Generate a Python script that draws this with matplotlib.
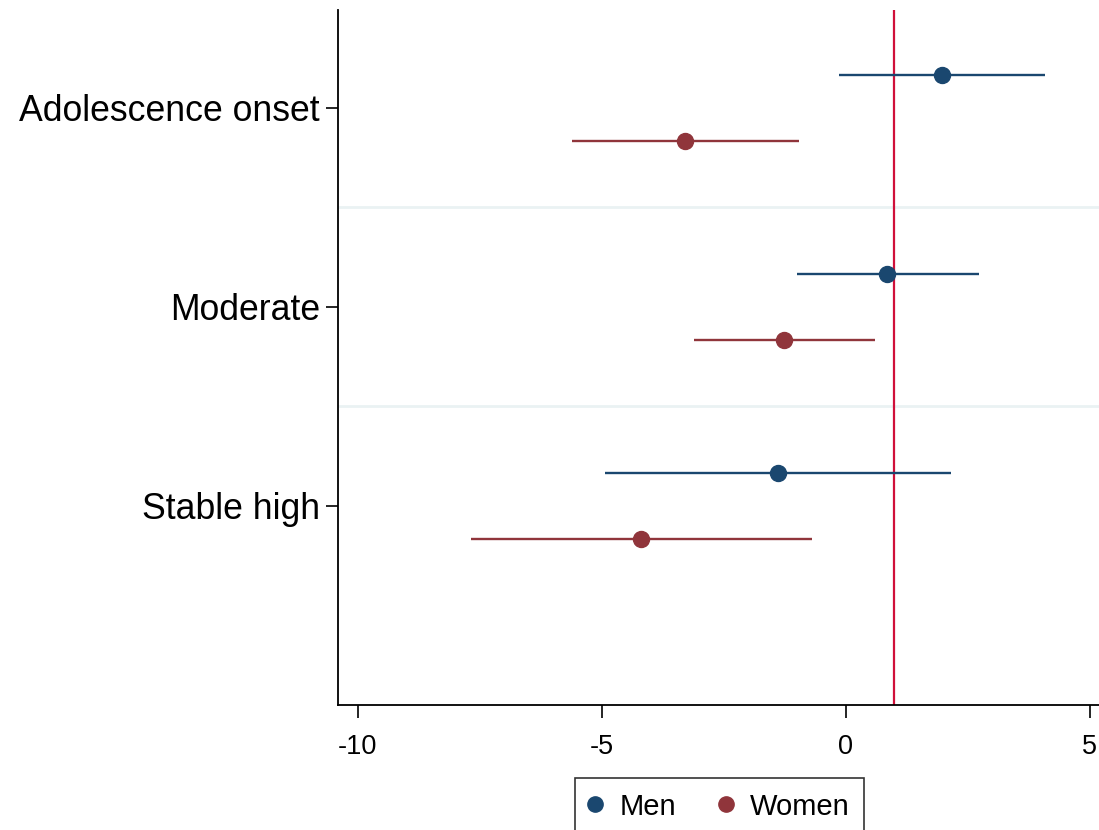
import numpy as np
import matplotlib.pyplot as plt
from matplotlib.lines import Line2D

plt.rcParams['font.family'] = ['Liberation Sans', 'DejaVu Sans']

# coefficient estimates and 95% CIs
categories = ['Adolescence onset', 'Moderate', 'Stable high']
men_est = [1.98, 0.85, -1.38]
men_lo = [-0.13, -0.99, -4.93]
men_hi = [4.09, 2.74, 2.16]
women_est = [-3.29, -1.26, -4.19]
women_lo = [-5.60, -3.10, -7.67]
women_hi = [-0.95, 0.60, -0.69]
ref_value = 1.0

men_color = '#1a476f'
women_color = '#90353b'

fig = plt.figure(figsize=(10.99, 8.30), dpi=100)
ax = fig.add_axes([338 / 1099, 125 / 830, 1 - 338 / 1099, 695 / 830])

pos = np.arange(1, len(categories) + 1)
off = 0.166

# separators between groups
for s in pos[:-1] + 0.5:
    ax.axhline(s, color='#eaf2f3', linewidth=2, zorder=0)

ax.axvline(ref_value, color='#d0103a', linewidth=1.6, zorder=1)

men_err = [np.array(men_est) - np.array(men_lo), np.array(men_hi) - np.array(men_est)]
women_err = [np.array(women_est) - np.array(women_lo), np.array(women_hi) - np.array(women_est)]
ax.errorbar(men_est, pos - off, xerr=men_err, fmt='o', color=men_color,
            markersize=11.5, elinewidth=1.7, capsize=0, zorder=3)
ax.errorbar(women_est, pos + off, xerr=women_err, fmt='o', color=women_color,
            markersize=11.5, elinewidth=1.7, capsize=0, zorder=3)

ax.set_ylim(4.0, 0.51)
ax.set_xlim(-10.4, 5.19)
ax.set_yticks(pos)
ax.set_yticklabels(categories, fontsize=25.7)
ax.set_xticks([-10, -5, 0, 5])
ax.set_xticklabels(['-10', '-5', '0', '5'], fontsize=19.5)
ax.tick_params(axis='y', length=9, width=1.2, pad=4)
ax.tick_params(axis='x', length=9, width=1.2, pad=12)

ax.spines['top'].set_visible(False)
ax.spines['right'].set_visible(False)
ax.spines['left'].set_linewidth(1.3)
ax.spines['bottom'].set_linewidth(1.3)

handles = [Line2D([], [], marker='o', linestyle='', color=men_color, markersize=11),
           Line2D([], [], marker='o', linestyle='', color=women_color, markersize=11)]
leg = fig.legend(handles, ['Men', 'Women'], loc='upper left',
                 bbox_to_anchor=(575 / 1099, 1 - 778 / 830), ncol=2,
                 fontsize=21, frameon=True, fancybox=False, edgecolor='black',
                 handlelength=0.4, handletextpad=0.62, columnspacing=1.51,
                 borderpad=0.5, borderaxespad=0)
leg.get_frame().set_linewidth(1.2)

fig.savefig('out.png', dpi=100)
